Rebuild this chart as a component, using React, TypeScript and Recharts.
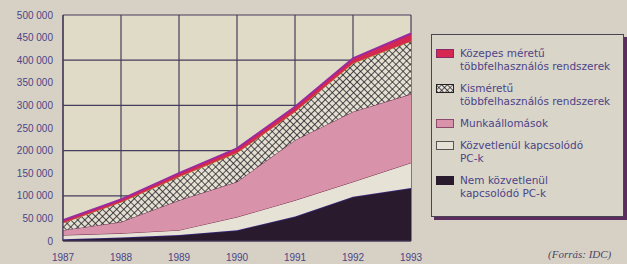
import { Area, AreaChart, CartesianGrid, XAxis, YAxis } from 'recharts'

const years = [1987, 1988, 1989, 1990, 1991, 1992, 1993]
// values in thousands, stacked bottom to top
const nemKozvetlenul = [4, 8, 13, 24, 54, 98, 117]
const kozvetlenul = [9, 9, 11, 29, 36, 33, 56]
const munkaallomasok = [11, 25, 66, 78, 133, 155, 152]
const kismeretu = [16, 44, 52, 64, 63, 107, 117]
const kozepes = [6, 6, 8, 10, 11, 11, 17]
const yTicks = [0, 50000, 100000, 150000, 200000, 250000, 300000, 350000, 400000, 450000, 500000]

const data = years.map((year, i) => ({
  year,
  nem: nemKozvetlenul[i] * 1000,
  kozv: kozvetlenul[i] * 1000,
  munka: munkaallomasok[i] * 1000,
  kis: kismeretu[i] * 1000,
  kozep: kozepes[i] * 1000,
}))

const legendItems = [
  { label: ['Közepes méretű', 'többfelhasználós rendszerek'], fill: '#d42850', border: '#8a2a6a' },
  { label: ['Kisméretű', 'többfelhasználós rendszerek'], fill: 'url(#hatchLegend)', border: '#222' },
  { label: ['Munkaállomások'], fill: '#d893aa', border: '#8a4a6a' },
  { label: ['Közvetlenül kapcsolódó', 'PC-k'], fill: '#e6e2d6', border: '#555' },
  { label: ['Nem közvetlenül', 'kapcsolódó PC-k'], fill: '#2a1a2e', border: '#2a1a2e' },
]

const textColor = '#4c4488'
const gridColor = '#463c5c'

const fmt = (v: number) => (v === 0 ? '0' : `${v / 1000} 000`)

function Swatch({ fill, border }: { fill: string; border: string }) {
  return (
    <svg width={18} height={9} style={{ flexShrink: 0, marginTop: 2 }}>
      <defs>
        <pattern id="hatchLegend" width={4} height={4} patternUnits="userSpaceOnUse" patternTransform="rotate(45)">
          <rect width={4} height={4} fill="#e8e4da" />
          <path d="M0 0 H4 M0 0 V4" stroke="#1e1a22" strokeWidth={1.3} />
        </pattern>
      </defs>
      <rect x={0.5} y={0.5} width={17} height={8} fill={fill} stroke={border} strokeWidth={1} />
    </svg>
  )
}

export default function App() {
  return (
    <div
      style={{
        position: 'fixed',
        left: 0,
        top: 0,
        width: 627,
        height: 264,
        background: '#d6d1c4',
        fontFamily: '"Liberation Sans", Arial, sans-serif',
        overflow: 'hidden',
      }}
    >
      <AreaChart width={430} height={264} data={data} margin={{ top: 15, right: 19, left: 0, bottom: 0 }}>
        <defs>
          <pattern id="hatch" width={5} height={5} patternUnits="userSpaceOnUse" patternTransform="rotate(45)">
            <rect width={5} height={5} fill="#e4e0d2" />
            <path d="M0 0 H5 M0 0 V5" stroke="#1e1a22" strokeWidth={1.5} />
          </pattern>
        </defs>
        <CartesianGrid stroke={gridColor} strokeWidth={1.2} fill="#dfdbc6" />
        <XAxis
          dataKey="year"
          type="number"
          domain={[1987, 1993]}
          ticks={years}
          height={23}
          axisLine={{ stroke: gridColor }}
          tickLine={false}
          tick={{ fill: textColor, fontSize: 10 }}
          tickMargin={7}
        />
        <YAxis
          width={63}
          domain={[0, 500000]}
          ticks={yTicks}
          tickFormatter={fmt}
          axisLine={{ stroke: gridColor, strokeWidth: 1.2 }}
          tickLine={false}
          tick={{ fill: textColor, fontSize: 10 }}
          tickMargin={4}
        />
        <Area type="linear" dataKey="nem" stackId="a" fill="#2a1a2e" fillOpacity={1} stroke="#3a2a80" strokeWidth={1.5} isAnimationActive={false} />
        <Area type="linear" dataKey="kozv" stackId="a" fill="#e6e2d6" fillOpacity={1} stroke="#7a3050" strokeWidth={1} isAnimationActive={false} />
        <Area type="linear" dataKey="munka" stackId="a" fill="#d893aa" fillOpacity={1} stroke="#6a3050" strokeWidth={1} isAnimationActive={false} />
        <Area type="linear" dataKey="kis" stackId="a" fill="url(#hatch)" fillOpacity={1} stroke="#b09020" strokeWidth={1} isAnimationActive={false} />
        <Area type="linear" dataKey="kozep" stackId="a" fill="#d42850" fillOpacity={1} stroke="#9a2aa0" strokeWidth={2} isAnimationActive={false} />
      </AreaChart>

      <div
        style={{
          position: 'absolute',
          left: 431,
          top: 34,
          width: 193,
          height: 183,
          border: '1px solid #4a4450',
          background: '#d9d5c8',
          boxShadow: '3px 3px 0 #5a2d5e',
          boxSizing: 'border-box',
          padding: '12px 0 0 4px',
        }}
      >
        {legendItems.map((item, i) => (
          <div key={i} style={{ display: 'flex', gap: 6, marginBottom: 9 }}>
            <Swatch fill={item.fill} border={item.border} />
            <div
              style={{
                color: textColor,
                fontFamily: '"DejaVu Sans", sans-serif',
                fontSize: 10.5,
                lineHeight: '13px',
                whiteSpace: 'nowrap',
              }}
            >
              {item.label.map((l, j) => (
                <div key={j}>{l}</div>
              ))}
            </div>
          </div>
        ))}
      </div>

      <div
        style={{
          position: 'absolute',
          left: 548,
          top: 248,
          color: '#4c4466',
          fontFamily: '"Liberation Serif", serif',
          fontStyle: 'italic',
          fontSize: 11,
          whiteSpace: 'nowrap',
        }}
      >
        (Forrás: IDC)
      </div>
    </div>
  )
}
